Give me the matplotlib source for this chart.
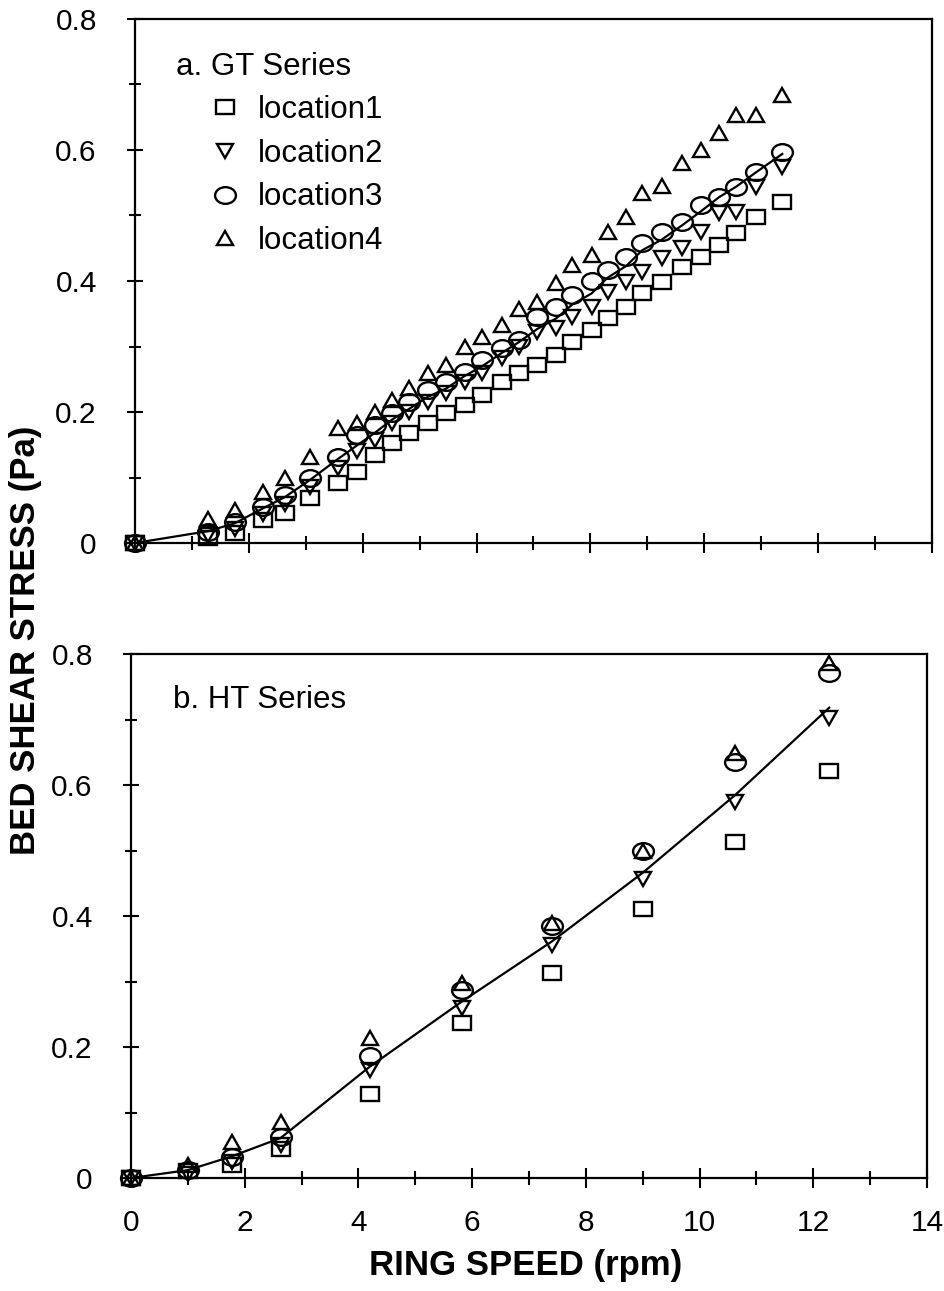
import numpy as np
import matplotlib
matplotlib.use("Agg")
import matplotlib.pyplot as plt
from matplotlib.markers import MarkerStyle
from matplotlib.transforms import Affine2D
from matplotlib.ticker import MultipleLocator, FuncFormatter

plt.rcParams['font.family'] = ['Liberation Sans', 'DejaVu Sans']

# ---------------- data: a. GT Series ----------------
gt_speed = [0.0, 1.28, 1.75, 2.25, 2.63, 3.07, 3.56, 3.90, 4.21, 4.51, 4.82,
            5.14, 5.47, 5.79, 6.10, 6.44, 6.75, 7.07, 7.40, 7.68, 8.02,
            8.30, 8.63, 8.91, 9.25, 9.61, 9.95, 10.26, 10.56, 10.91, 11.37]
gt_loc1 = [0.0, 0.008, 0.015, 0.035, 0.046, 0.069, 0.092, 0.108, 0.134, 0.153, 0.168,
           0.183, 0.198, 0.211, 0.226, 0.246, 0.260, 0.272, 0.287, 0.307, 0.325,
           0.344, 0.360, 0.382, 0.398, 0.421, 0.437, 0.455, 0.473, 0.498, 0.521]
gt_loc2 = [0.0, 0.012, 0.022, 0.045, 0.060, 0.085, 0.115, 0.140, 0.157, 0.183, 0.200,
           0.215, 0.229, 0.246, 0.260, 0.282, 0.300, 0.322, 0.328, 0.345, 0.360,
           0.383, 0.398, 0.414, 0.435, 0.450, 0.475, 0.504, 0.505, 0.544, 0.574]
gt_loc3 = [0.0, 0.017, 0.032, 0.055, 0.073, 0.099, 0.131, 0.165, 0.180, 0.198, 0.215,
           0.234, 0.246, 0.261, 0.280, 0.298, 0.310, 0.345, 0.360, 0.379, 0.400,
           0.417, 0.437, 0.458, 0.475, 0.490, 0.516, 0.528, 0.544, 0.567, 0.597]
gt_loc4 = [0.0, 0.036, 0.050, 0.078, 0.100, 0.131, 0.175, 0.183, 0.200, 0.218, 0.237,
           0.260, 0.272, 0.300, 0.315, 0.333, 0.357, 0.368, 0.397, 0.424, 0.440,
           0.475, 0.498, 0.534, 0.545, 0.580, 0.600, 0.626, 0.653, 0.653, 0.684]
gt_line = [0.0, 0.018, 0.030, 0.053, 0.070, 0.096, 0.128, 0.149, 0.168, 0.188, 0.205,
           0.223, 0.236, 0.255, 0.270, 0.290, 0.307, 0.327, 0.343, 0.364, 0.381,
           0.405, 0.423, 0.447, 0.463, 0.485, 0.507, 0.528, 0.544, 0.566, 0.594]

# ---------------- data: b. HT Series ----------------
ht_speed = [0.0, 1.00, 1.77, 2.63, 4.20, 5.83, 7.40, 9.00, 10.63, 12.28]
ht_loc1 = [0.0, 0.010, 0.020, 0.045, 0.128, 0.236, 0.313, 0.410, 0.513, 0.621]
ht_loc2 = [0.0, 0.006, 0.024, 0.050, 0.165, 0.260, 0.356, 0.456, 0.574, 0.702]
ht_loc3 = [0.0, 0.012, 0.032, 0.063, 0.186, 0.287, 0.385, 0.500, 0.635, 0.771]
ht_loc4 = [0.0, 0.020, 0.055, 0.085, 0.213, 0.297, 0.390, 0.500, 0.649, 0.786]
ht_line = [0.0, 0.012, 0.033, 0.061, 0.170, 0.270, 0.361, 0.466, 0.585, 0.718]

labels = ['location1', 'location2', 'location3', 'location4']

W, H = 945, 1291
fig = plt.figure(figsize=(W / 100, H / 100), dpi=100)

def frac_axes(l, r, t, b):
    return [l / W, 1 - b / H, (r - l) / W, (b - t) / H]

ax1 = fig.add_axes(frac_axes(135, 932, 19, 543))
ax2 = fig.add_axes(frac_axes(131, 927, 654, 1178))

def mk(m, sx):
    return MarkerStyle(m, transform=Affine2D().scale(sx, 1.0))

styles = [
    dict(marker=mk('s', 1.22), ms=10.5),
    dict(marker=mk('v', 1.2), ms=10),
    dict(marker=mk('o', 1.25), ms=12),
    dict(marker=mk('^', 1.2), ms=10),
]

def style_axes(ax, show_xlabels):
    ax.set_xlim(0, 14)
    ax.set_ylim(0, 0.8)
    for s in ax.spines.values():
        s.set_linewidth(1.6)
    ax.xaxis.set_major_locator(MultipleLocator(2))
    ax.xaxis.set_minor_locator(MultipleLocator(1))
    ax.yaxis.set_major_locator(MultipleLocator(0.2))
    ax.yaxis.set_minor_locator(MultipleLocator(0.1))
    ax.tick_params(axis='x', which='major', direction='inout', length=15, width=1.5,
                   labelsize=21.5, pad=15, top=False)
    ax.tick_params(axis='x', which='minor', direction='inout', length=10, width=1.5, top=False)
    ax.tick_params(axis='y', which='major', direction='inout', length=11, width=1.5,
                   labelsize=21.5, pad=22, right=False)
    ax.tick_params(axis='y', which='minor', direction='inout', length=8, width=1.5, right=False)
    ax.yaxis.set_major_formatter(FuncFormatter(lambda v, p: '0' if abs(v) < 1e-9 else f'{v:.1f}'))
    if not show_xlabels:
        ax.tick_params(axis='x', which='both', labelbottom=False)

def draw(ax, xs, series, line):
    ax.plot(xs, line, color='black', lw=1.6, zorder=2, clip_on=False)
    handles = []
    for ys, st, lab in zip(series, styles, labels):
        h, = ax.plot(xs, ys, linestyle='none', marker=st['marker'], ms=st['ms'],
                     mfc='none', mec='black', mew=1.7, label=lab, zorder=3, clip_on=False)
        handles.append(h)
    return handles

h1 = draw(ax1, gt_speed, [gt_loc1, gt_loc2, gt_loc3, gt_loc4], gt_line)
draw(ax2, ht_speed, [ht_loc1, ht_loc2, ht_loc3, ht_loc4], ht_line)
style_axes(ax1, False)
style_axes(ax2, True)

ax1.text(0.051, 0.908, 'a. GT Series', transform=ax1.transAxes, fontsize=22.5,
         ha='left', va='center')
ax2.text(0.053, 0.912, 'b. HT Series', transform=ax2.transAxes, fontsize=22.5,
         ha='left', va='center')

ax1.legend(handles=h1, loc='upper left', bbox_to_anchor=(0.0934, 0.855),
           frameon=False, fontsize=22.5, handlelength=1.0, handletextpad=0.56,
           labelspacing=0.44, borderpad=0, borderaxespad=0, numpoints=1)

fig.text(526 / W, 1 - 1266 / H, 'RING SPEED (rpm)', fontsize=25, fontweight='bold',
         ha='center', va='center')
fig.text(26 / W, 1 - 640 / H, 'BED SHEAR STRESS (Pa)', fontsize=25, fontweight='bold',
         ha='center', va='center', rotation=90)

fig.savefig('out.png', dpi=100)
